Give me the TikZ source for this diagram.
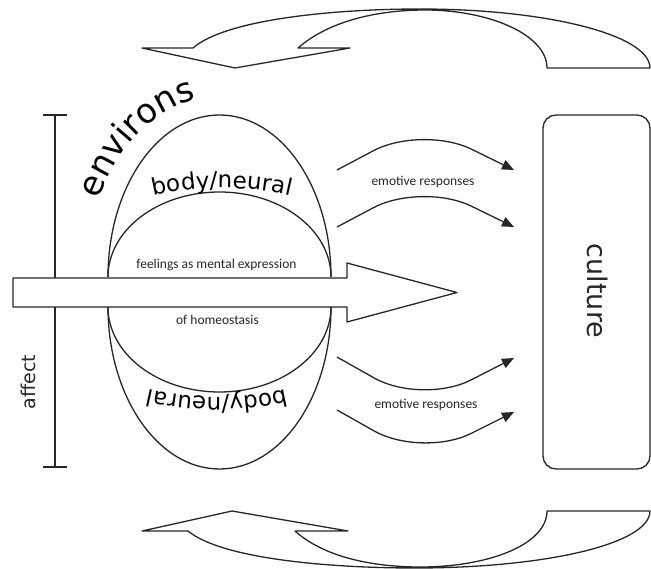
\documentclass[tikz,border=0pt]{standalone}
\usepackage{fontspec}
\setmainfont{Carlito}
\newfontfamily\djv{DejaVu Sans}
\usetikzlibrary{arrows.meta,decorations.text}
\definecolor{ink}{HTML}{262626}
\begin{document}
\begin{tikzpicture}[x=1pt,y=-1pt,color=ink,line join=round,
  ln/.style={draw=ink,line width=1.3pt},
  resp/.style={ln,rounded corners=55pt,-{Triangle[length=12pt,width=10pt]}},
  small/.style={font=\fontsize{13.5}{15}\selectfont,text=ink,inner sep=0pt},
  big/.style={text=ink,inner sep=0pt}]
\useasboundingbox (0,0) rectangle (651,569);

% top curved arrow
\draw[ln] (142,48) -- (193,48) .. controls (225,20) and (330,9) .. (420,9)
  .. controls (547,9) and (650,35) .. (650,68) -- (547,68)
  .. controls (547,35) and (490,10) .. (425,10)
  .. controls (380,10) and (330,20) .. (298,48) -- (350,48) -- (235,68) -- cycle;

% bottom curved arrow
\draw[ln] (142,531) -- (188,531) .. controls (222,559) and (330,568) .. (415,568)
  .. controls (545,568) and (650,544) .. (650,511) -- (547,511)
  .. controls (547,544) and (490,567) .. (420,567)
  .. controls (375,567) and (325,558) .. (295,531) -- (348,531) -- (232,511) -- cycle;

% affect bar
\coordinate (afftop) at (55,115);
\coordinate (affbot) at (55,467);
\draw[ln] (afftop) -- (affbot);
\draw[ln] ([xshift=-12pt]afftop) -- ([xshift=12pt]afftop);
\draw[ln] ([xshift=-12pt]affbot) -- ([xshift=12pt]affbot);
\node[big,rotate=90,font=\djv\fontsize{19}{19}\selectfont] (affect) at (28,382) {affect};

% half ellipses
\draw[ln] (108,277) arc[start angle=180,end angle=360,x radius=111.5,y radius=162];
\draw[ln] (108,277) arc[start angle=180,end angle=360,x radius=111.5,y radius=85];
\draw[ln] (108,307) arc[start angle=180,end angle=0,x radius=111.5,y radius=162];
\draw[ln] (108,307) arc[start angle=180,end angle=0,x radius=111.5,y radius=85];

% big arrow
\draw[ln,fill=white] (13,278) -- (347,278) -- (347,263) -- (457,292.5) -- (347,322) -- (347,307) -- (13,307) -- cycle;

% curved texts
\path[decorate,decoration={text along path,text align=center,
  text={|\djv\fontsize{34}{34}\selectfont|environs}}]
  (219.5,277) ++(-168:134 and 180) arc[start angle=-168,end angle=-82,x radius=134,y radius=180];
\path[decorate,decoration={text along path,text align=center,
  text={|\djv\fontsize{23}{23}\selectfont|body/neural}}]
  (222,488) ++(-110:300) arc[start angle=-110,end angle=-70,radius=300];
\path[decorate,decoration={text along path,text align=center,
  text={|\djv\fontsize{23}{23}\selectfont|body/neural}}]
  (217,97) ++(70:300) arc[start angle=70,end angle=110,radius=300];

\node[small] (feel) at (216.5,265) {feelings as mental expression};
\node[small] (homeo) at (217.5,320) {of homeostasis};

% emotive responses
\coordinate (r1s) at (337,170); \coordinate (r1e) at (514,170);
\coordinate (r2s) at (337,227); \coordinate (r2e) at (514,227);
\coordinate (r3s) at (337,357); \coordinate (r3e) at (514,358);
\coordinate (r4s) at (337,410); \coordinate (r4e) at (514,412);
\draw[resp] (r1s) -- (422,125) -- (r1e);
\draw[resp] (r2s) -- (422,182) -- (r2e);
\draw[resp] (r3s) -- (422,405) -- (r3e);
\draw[resp] (r4s) -- (422,458) -- (r4e);
\node[small] (er1) at (423,182) {emotive responses};
\node[small] (er2) at (426,405) {emotive responses};

% culture box
\node[ln,rounded corners=13pt,minimum width=107pt,minimum height=354pt,inner sep=0pt] (culture) at (596.5,292) {};
\node[big,rotate=-90,font=\djv\fontsize{27}{27}\selectfont] (culturelbl) at (598,291) {culture};
\end{tikzpicture}
\end{document}
